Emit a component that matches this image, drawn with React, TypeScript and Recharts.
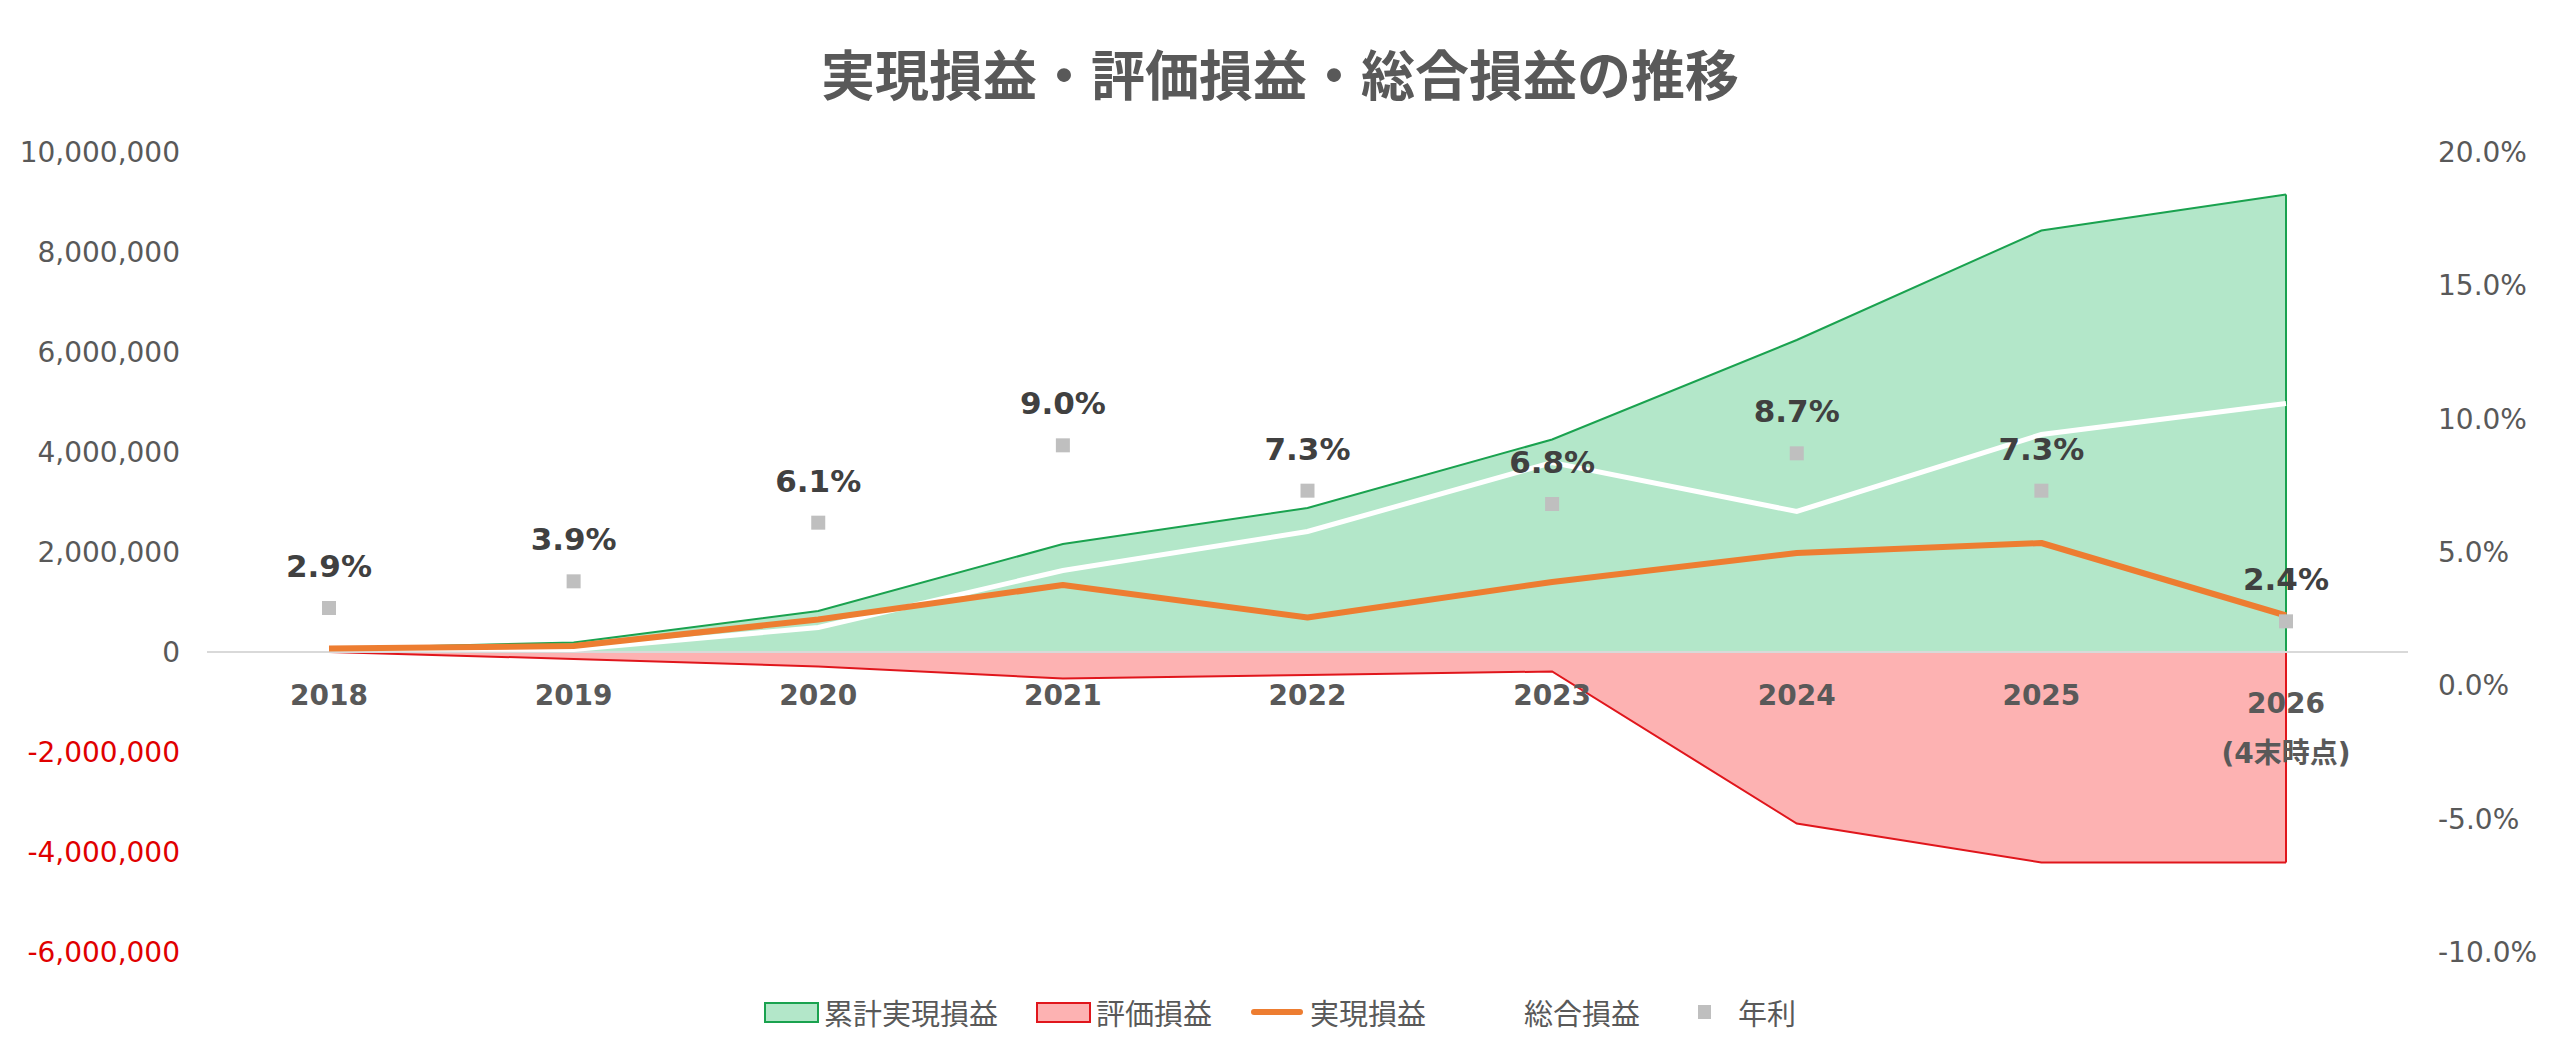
import {
  Area,
  ComposedChart,
  LabelList,
  Legend,
  Line,
  ReferenceLine,
  XAxis,
  YAxis,
} from "recharts";

// 年ごとの損益データ
const YEARS = ["2018", "2019", "2020", "2021", "2022", "2023", "2024", "2025", "2026"];
const YEAR_NOTES = ["", "", "", "", "", "", "", "", "(4末時点)"];
const CUMULATIVE_REALIZED = [70000, 190000, 820000, 2160000, 2880000, 4250000, 6240000, 8430000, 9150000];
const VALUATION = [0, -140000, -290000, -530000, -460000, -390000, -3430000, -4210000, -4210000];
const ANNUAL_REALIZED = [70000, 120000, 650000, 1340000, 690000, 1400000, 1980000, 2180000, 730000];
const TOTAL = [70000, 50000, 490000, 1630000, 2410000, 3790000, 2810000, 4350000, 4970000];
const ANNUAL_RATE = [2.9, 3.9, 6.1, 9.0, 7.3, 6.8, 8.7, 7.3, 2.4];

const LEFT_TICKS = [-6000000, -4000000, -2000000, 0, 2000000, 4000000, 6000000, 8000000, 10000000];
const RIGHT_TICKS = [-10, -5, 0, 5, 10, 15, 20];

const LEGEND_ORDER = ["cumulative", "valuation", "realized", "total", "rate"];

const FONT = "'DejaVu Sans', 'Noto Sans CJK JP', sans-serif";
const JP_FONT = "'Noto Sans CJK JP', sans-serif";
const GRAY = "#595959";

const GREEN_FILL = "#B3E7C9";
const GREEN_LINE = "#1AA24F";
const RED_FILL = "#FDB2B2";
const RED_LINE = "#E0161C";
const ORANGE = "#ED7D31";
const MARKER = "#BFBFBF";

const data = YEARS.map((year, i) => ({
  year,
  cumulative: CUMULATIVE_REALIZED[i],
  valuation: VALUATION[i],
  realized: ANNUAL_REALIZED[i],
  total: TOTAL[i],
  rate: ANNUAL_RATE[i],
  zero: 0,
}));

const lastYear = YEARS[YEARS.length - 1];

function LeftTick(props: any) {
  const { x, y, payload } = props;
  const v = payload.value as number;
  return (
    <text x={x} y={y} dy="0.36em" textAnchor="end" fontSize={28} fontFamily={FONT} fill={v < 0 ? "#E00000" : GRAY}>
      {v.toLocaleString("en-US")}
    </text>
  );
}

function RightTick(props: any) {
  const { x, y, payload } = props;
  return (
    <text x={x} y={y} dy="0.36em" textAnchor="start" fontSize={28} fontFamily={FONT} fill={GRAY}>
      {`${(payload.value as number).toFixed(1)}%`}
    </text>
  );
}

// カテゴリ名はゼロ線のすぐ下に置く
function YearLabel(props: any) {
  const x = props.x ?? props.viewBox?.x;
  const y = props.y ?? props.viewBox?.y;
  const note = YEAR_NOTES[props.index];
  const style = { fontSize: 28, fontWeight: 700, fontFamily: FONT, fill: GRAY };
  if (!note) {
    return (
      <text x={x} y={y + 43} dy="0.36em" textAnchor="middle" {...style}>
        {props.value}
      </text>
    );
  }
  return (
    <g>
      <text x={x} y={y + 51} dy="0.36em" textAnchor="middle" {...style}>
        {props.value}
      </text>
      <text x={x} y={y + 101} dy="0.36em" textAnchor="middle" {...style}>
        {note}
      </text>
    </g>
  );
}

function RateLabel(props: any) {
  const x = props.x ?? props.viewBox?.x;
  const y = props.y ?? props.viewBox?.y;
  return (
    <text x={x} y={y - 42} dy="0.36em" textAnchor="middle" fontSize={31} fontWeight={700} fontFamily={FONT} fill="#404040">
      {`${(props.value as number).toFixed(1)}%`}
    </text>
  );
}

function SquareDot(props: any) {
  const { cx, cy } = props;
  if (cx == null || cy == null) return null;
  return <rect x={cx - 7} y={cy - 7} width={14} height={14} fill={MARKER} />;
}

function LegendIcon({ kind }: { kind: string }) {
  const box = { width: 55, height: 30, display: "flex", alignItems: "center", justifyContent: "center" } as const;
  if (kind === "cumulative" || kind === "valuation") {
    const green = kind === "cumulative";
    return (
      <div style={box}>
        <div
          style={{
            width: 51,
            height: 17,
            background: green ? GREEN_FILL : RED_FILL,
            border: `2px solid ${green ? GREEN_LINE : RED_LINE}`,
          }}
        />
      </div>
    );
  }
  if (kind === "realized" || kind === "total") {
    return (
      <div style={box}>
        <div style={{ width: 52, height: 6, borderRadius: 3, background: kind === "realized" ? ORANGE : "#FFFFFF" }} />
      </div>
    );
  }
  return (
    <div style={box}>
      <div style={{ width: 13, height: 14, background: MARKER, marginLeft: -2 }} />
    </div>
  );
}

function ChartLegend(props: any) {
  const items = (props.payload ?? [])
    .filter((p: any) => LEGEND_ORDER.includes(p.dataKey))
    .sort((a: any, b: any) => LEGEND_ORDER.indexOf(a.dataKey) - LEGEND_ORDER.indexOf(b.dataKey));
  return (
    <div style={{ height: 40, display: "flex", justifyContent: "center", alignItems: "center" }}>
      {items.map((item: any, i: number) => (
        <div key={item.dataKey} style={{ display: "flex", alignItems: "center", marginLeft: i === 0 ? 0 : 38 }}>
          <LegendIcon kind={item.dataKey} />
          <span style={{ marginLeft: 5, fontSize: 29, fontFamily: JP_FONT, color: GRAY }}>{item.value}</span>
        </div>
      ))}
    </div>
  );
}

export default function App() {
  return (
    <div style={{ position: "absolute", left: 0, top: 0, width: 2560, height: 1057, background: "#FFFFFF" }}>
      <div
        style={{
          position: "absolute",
          top: 42,
          left: 0,
          width: 2560,
          textAlign: "center",
          fontSize: 54,
          lineHeight: "62px",
          fontWeight: 700,
          fontFamily: JP_FONT,
          color: GRAY,
        }}
      >
        実現損益・評価損益・総合損益の推移
      </div>
      <ComposedChart width={2560} height={1057} data={data} margin={{ top: 152, right: 0, bottom: 65, left: 0 }}>
        <XAxis dataKey="year" hide padding={{ left: 122, right: 122 }} />
        <YAxis
          yAxisId="left"
          width={207}
          domain={[-6000000, 10000000]}
          ticks={LEFT_TICKS}
          interval={0}
          axisLine={false}
          tickLine={false}
          tickMargin={21}
          tick={<LeftTick />}
        />
        <YAxis
          yAxisId="right"
          orientation="right"
          width={152}
          domain={[-10, 20]}
          ticks={RIGHT_TICKS}
          interval={0}
          axisLine={false}
          tickLine={false}
          tickMargin={24}
          tick={<RightTick />}
        />
        <Legend verticalAlign="bottom" content={<ChartLegend />} wrapperStyle={{ left: 0, bottom: 25, width: 2560 }} />

        <Area
          yAxisId="left"
          dataKey="cumulative"
          name="累計実現損益"
          type="linear"
          fill={GREEN_FILL}
          fillOpacity={1}
          stroke={GREEN_LINE}
          strokeWidth={2}
          dot={false}
          activeDot={false}
          isAnimationActive={false}
        />
        <Area
          yAxisId="left"
          dataKey="valuation"
          name="評価損益"
          type="linear"
          fill={RED_FILL}
          fillOpacity={1}
          stroke={RED_LINE}
          strokeWidth={2}
          dot={false}
          activeDot={false}
          isAnimationActive={false}
        />
        <ReferenceLine
          yAxisId="left"
          segment={[
            { x: lastYear, y: 0 },
            { x: lastYear, y: CUMULATIVE_REALIZED[CUMULATIVE_REALIZED.length - 1] },
          ]}
          stroke={GREEN_LINE}
          strokeWidth={2}
        />
        <ReferenceLine
          yAxisId="left"
          segment={[
            { x: lastYear, y: 0 },
            { x: lastYear, y: VALUATION[VALUATION.length - 1] },
          ]}
          stroke={RED_LINE}
          strokeWidth={2}
        />
        <ReferenceLine yAxisId="left" y={0} stroke="#D9D9D9" strokeWidth={2} />

        <Line
          yAxisId="left"
          dataKey="zero"
          stroke="none"
          dot={false}
          activeDot={false}
          legendType="none"
          isAnimationActive={false}
        >
          <LabelList dataKey="year" content={<YearLabel />} />
        </Line>
        <Line
          yAxisId="left"
          dataKey="total"
          name="総合損益"
          type="linear"
          stroke="#FFFFFF"
          strokeWidth={5}
          dot={false}
          activeDot={false}
          isAnimationActive={false}
        />
        <Line
          yAxisId="left"
          dataKey="realized"
          name="実現損益"
          type="linear"
          stroke={ORANGE}
          strokeWidth={6}
          strokeLinejoin="round"
          dot={false}
          activeDot={false}
          isAnimationActive={false}
        />
        <Line
          yAxisId="right"
          dataKey="rate"
          name="年利"
          stroke="none"
          legendType="square"
          dot={<SquareDot />}
          activeDot={false}
          isAnimationActive={false}
        >
          <LabelList dataKey="rate" content={<RateLabel />} />
        </Line>
      </ComposedChart>
    </div>
  );
}
